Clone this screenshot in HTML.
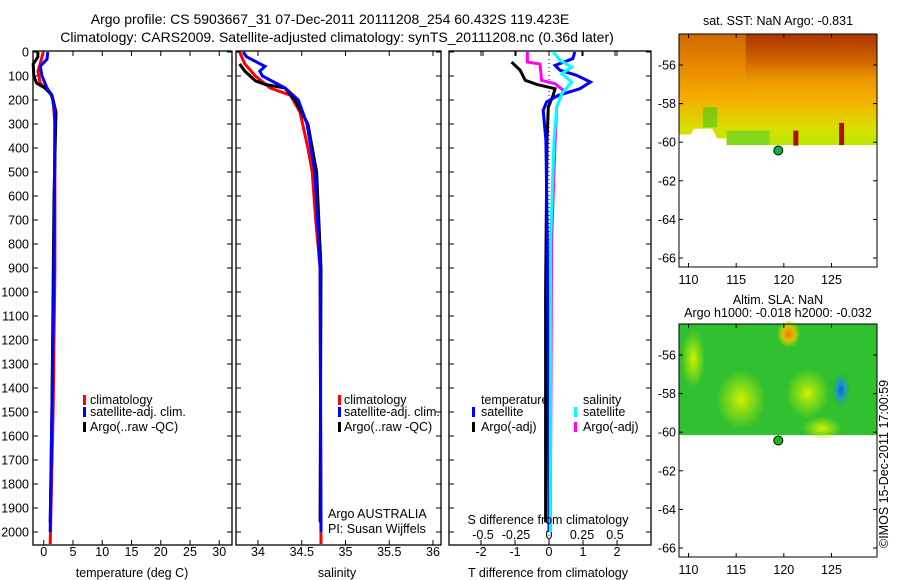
<!DOCTYPE html>
<html><head><meta charset="utf-8"><style>
body{margin:0;background:#fff}
svg{display:block;font-family:"Liberation Sans",sans-serif}
text{font-size:12.5px;fill:#000}
</style></head><body>
<svg id="c" width="900" height="580" viewBox="0 0 900 580">
<defs>
<linearGradient id="sstg" x1="0" y1="0" x2="0" y2="1">
<stop offset="0" stop-color="#d06800"/><stop offset="0.3" stop-color="#e88a00"/><stop offset="0.6" stop-color="#f5b000"/><stop offset="0.85" stop-color="#d8e000"/><stop offset="1" stop-color="#b8e800"/>
</linearGradient>
<linearGradient id="darkg" x1="0" y1="0" x2="0" y2="1"><stop offset="0" stop-color="#a02000" stop-opacity="0.7"/><stop offset="1" stop-color="#a02000" stop-opacity="0"/></linearGradient>
<radialGradient id="blueblob"><stop offset="0" stop-color="#1060e0"/><stop offset="0.5" stop-color="#20a0c0"/><stop offset="1" stop-color="#20b040" stop-opacity="0"/></radialGradient>
<radialGradient id="orblob"><stop offset="0" stop-color="#e08000"/><stop offset="0.5" stop-color="#e0c000"/><stop offset="1" stop-color="#b0e000" stop-opacity="0"/></radialGradient>
<radialGradient id="yblob"><stop offset="0" stop-color="#d0f000"/><stop offset="1" stop-color="#c0f000" stop-opacity="0"/></radialGradient>
</defs>
<text x="330" y="24" text-anchor="middle" style="font-size:14px">Argo profile: CS 5903667_31 07-Dec-2011 20111208_254 60.432S 119.423E</text>
<text x="337" y="42" text-anchor="middle" style="font-size:14px">Climatology: CARS2009. Satellite-adjusted climatology: synTS_20111208.nc (0.36d later)</text>
<g id="g"></g>
<text transform="translate(888,548) rotate(-90)" style="font-size:12.5px">©IMOS 15-Dec-2011 17:00:59</text>
</svg>
<script>
// ---- data ----
const depthTicks=[0,100,200,300,400,500,600,700,800,900,1000,1100,1200,1300,1400,1500,1600,1700,1800,1900,2000];
const tempTicks=[0,5,10,15,20,25,30];
const salTicks=[34,34.5,35,35.5,36];
const salTickLabels=["34","34.5","35","35.5","36"];
const tdTicks=[-2,-1,0,1,2];
const sdTicks=[-0.5,-0.25,0,0.25,0.5];
const sdTickLabels=["-0.5","-0.25","0","0.25","0.5"];
// temperature profiles [depth, value]
const tempClimD=[0,50,80,130,170,200,300,900,1500,2050];
const tempClimV=[-0.1,-0.6,-1.0,-0.6,1.1,1.6,1.9,1.9,1.6,1.1];
const tempArgoD=[0,20,50,100,130,150,180,250,600,1000,1500,1960];
const tempArgoV=[-1.0,-1.0,-1.8,-1.7,-1.2,0.2,1.4,2.1,1.75,1.6,1.4,1.1];
const tempSatD=[0,30,60,100,150,180,250,900,1500,2000];
const tempSatV=[0.7,0.55,-0.6,-0.3,0.55,1.4,1.9,1.75,1.4,1.1];
// salinity profiles
const salClimD=[0,50,100,150,180,250,300,400,500,700,900,2050];
const salClimV=[33.79,33.85,33.97,34.14,34.37,34.48,34.51,34.57,34.62,34.66,34.71,34.72];
const salArgoD=[50,80,120,135,150,200,300,500,900,1960];
const salArgoV=[33.79,33.85,33.97,34.08,34.31,34.42,34.57,34.67,34.72,34.71];
const salSatD=[0,20,60,80,100,150,200,300,500,900,2000];
const salSatV=[33.83,33.87,34.08,34.02,34.05,34.31,34.46,34.56,34.65,34.71,34.72];
// differences
const tdArgoD=[42,76,118,135,153,181,229,368,1000,1960];
const tdArgoV=[-1.1,-0.85,-0.7,-0.36,0.18,0.12,-0.02,-0.06,-0.1,-0.1];
const sdArgoD=[0,42,50,118,132,160,229,368,785,2000];
const sdArgoV=[-0.164,-0.164,-0.068,-0.056,0.046,0.108,0.058,0.046,0.02,0.01];
const tdSatD=[0,28,56,76,97,125,153,181,208,243,368,785,2000];
const tdSatV=[0.76,0.7,0.18,0.32,0.81,1.22,0.91,0.27,-0.07,-0.17,-0.09,-0.05,0.0];
const sdSatD=[0,35,63,90,125,174,229,368,785,2000];
const sdSatV=[0.032,0.084,0.172,0.096,0.172,0.096,0.058,0.038,0.012,0.01];
// maps
const latTicks=[-56,-58,-60,-62,-64,-66];
const lonTicks=[110,115,120,125];
const argoLon=119.42, argoLat=-60.43;

// ---- helpers ----
const NS="http://www.w3.org/2000/svg", G=document.getElementById('g');
function el(t,a,p){const e=document.createElementNS(NS,t);for(const k in a)e.setAttribute(k,a[k]);(p||G).appendChild(e);return e;}
const Y0=51,Y1=545;
const yD=d=>52+d*0.24;
const P1={l:33,r:232,x:v=>43.75+v*5.85};
const P2={l:236,r:441,x:v=>258+(v-34)*87.5};
const P3={l:449,r:651,x:v=>549+v*34};
const xS=v=>549+v*132;

function frame(P,name,labelDepth){
  const f=el('rect',{x:P.l,y:Y0,width:P.r-P.l,height:Y1-Y0,fill:'none',stroke:'#000','stroke-width':1.3});
  
  
  depthTicks.forEach(d=>{
    const y=yD(d);
    el('line',{x1:P.l,x2:P.l+5,y1:y,y2:y,stroke:'#000'});
    el('line',{x1:P.r-5,x2:P.r,y1:y,y2:y,stroke:'#000'});
    if(labelDepth){const t=el('text',{x:P.l-4,y:y+4.5,'text-anchor':'end'});t.textContent=d;
      
      }
  });
}
function xticks(P,ticks,labels,fx,ylab,top){
  ticks.forEach((v,i)=>{const x=fx(v);
    if(top!==false){el('line',{x1:x,x2:x,y1:Y0,y2:Y0+5,stroke:'#000'});}
    el('line',{x1:x,x2:x,y1:Y1-5,y2:Y1,stroke:'#000'});
    const t=el('text',{x:x,y:ylab,'text-anchor':'middle'});t.textContent=labels[i];
    
    
  });
}
function line(P,fx,D,V,color,name,w){
  const pts=D.map((d,i)=>fx(V[i]).toFixed(1)+','+yD(d).toFixed(1)).join(' ');
  const e=el('polyline',{points:pts,fill:'none',stroke:color,'stroke-width':w||3,'stroke-linejoin':'miter'});
  
  
}
function txt(x,y,s,name,anchor){const t=el('text',{x:x,y:y,'text-anchor':anchor||'start'});t.textContent=s;
  
  return t;}
function legSw(x,y,c){el('rect',{x:x,y:y-9,width:3,height:10,fill:c});}

// panel 1
frame(P1,'temperature-panel',true);
xticks(P1,tempTicks,tempTicks.map(String),P1.x,556);
line(P1,P1.x,tempClimD,tempClimV,'#f00','temp-climatology-line');
line(P1,P1.x,tempArgoD,tempArgoV,'#000','temp-argo-line');
line(P1,P1.x,tempSatD,tempSatV,'#00f','temp-satellite-line');
txt(132,577,'temperature (deg C)','temperature-axis-title','middle');
legSw(83,404,'#f00');txt(90,404,'climatology','legend-climatology');
legSw(83,416,'#00f');txt(90,416,'satellite-adj. clim.','legend-satellite');
legSw(83,431,'#000');txt(90,431,'Argo(..raw -QC)','legend-argo');

// panel 2
frame(P2,'salinity-panel',false);
xticks(P2,salTicks,salTickLabels,P2.x,556);
line(P2,P2.x,salClimD,salClimV,'#f00','sal-climatology-line');
line(P2,P2.x,salArgoD,salArgoV,'#000','sal-argo-line');
line(P2,P2.x,salSatD,salSatV,'#00f','sal-satellite-line');
txt(337,577,'salinity','salinity-axis-title','middle');
legSw(338,404,'#f00');txt(344,404,'climatology','legend-climatology-2');
legSw(338,416,'#00f');txt(344,416,'satellite-adj. clim.','legend-satellite-2');
legSw(338,431,'#000');txt(344,431,'Argo(..raw -QC)','legend-argo-2');
txt(328,518,'Argo AUSTRALIA','argo-australia-label');
txt(328,533,'PI: Susan Wijffels','pi-label');

// panel 3
frame(P3,'difference-panel',false);
xticks(P3,tdTicks,tdTicks.map(String),P3.x,556);
sdTicks.forEach((v,i)=>{const x=xS(v);el('line',{x1:x,x2:x,y1:Y0,y2:Y0+5,stroke:'#000'});
  txt(x,539,sdTickLabels[i],'s-diff-tick-label','middle');});
el('line',{x1:549,x2:549,y1:Y0,y2:Y1,stroke:'#000','stroke-dasharray':'1,3'});
line(P3,P3.x,tdArgoD,tdArgoV,'#000','t-diff-argo-line');
line(P3,xS,sdArgoD,sdArgoV,'#f0f','s-diff-argo-line');
line(P3,P3.x,tdSatD,tdSatV,'#00f','t-diff-satellite-line');
line(P3,xS,sdSatD,sdSatV,'#0ff','s-diff-satellite-line');
txt(548,524,'S difference from climatology','s-diff-axis-title','middle');
txt(548,577,'T difference from climatology','t-diff-axis-title','middle');
txt(481,404,'temperature','legend-temperature-header');
txt(583,404,'salinity','legend-salinity-header');
legSw(472,416,'#00f');txt(481,416,'satellite','legend-t-satellite');
legSw(472,431,'#000');txt(481,431,'Argo(-adj)','legend-t-argo');
legSw(574,416,'#0ff');txt(583,416,'satellite','legend-s-satellite');
legSw(574,431,'#f0f');txt(583,431,'Argo(-adj)','legend-s-argo');

// maps
const ML=679,MR=877;
const mx=lon=>679+(lon-109)*9.53;
function map(top,name,title1,title2,kind){
  const my=lat=>top+31+(-56-lat)*19.3;
  const bot=top+233;
  const g=el('g',{});
  
  
  const yEdge=my(-60.15);
  if(kind==='sst'){
    el('rect',{x:ML,y:top,width:MR-ML,height:yEdge-top,fill:'url(#sstg)'},g);
    el('rect',{x:mx(116),y:top,width:MR-mx(116),height:45,fill:'url(#darkg)'},g);
    el('polygon',{points:`${ML},${my(-59.6)} ${mx(110.2)},${my(-59.6)} ${mx(110.6)},${my(-59.3)} ${mx(112.5)},${my(-59.3)} ${mx(113)},${my(-59.8)} ${mx(114)},${my(-59.8)} ${mx(114)},${yEdge+1} ${ML},${yEdge+1}`,fill:'#fff'},g);
    el('rect',{x:mx(114),y:my(-59.4),width:mx(118.5)-mx(114),height:yEdge-my(-59.4),fill:'#40c830',opacity:0.5},g);
    el('rect',{x:mx(111.5),y:my(-58.2),width:mx(113)-mx(111.5),height:20,fill:'#20c820',opacity:0.5},g);
    el('rect',{x:mx(121),y:my(-59.4),width:5,height:15,fill:'#b01000'},g);
    el('rect',{x:mx(125.8),y:my(-59),width:5,height:yEdge-my(-59),fill:'#b01000'},g);
  } else {
    el('rect',{x:ML,y:top,width:MR-ML,height:yEdge-top,fill:'#30c030'},g);
    el('ellipse',{cx:mx(115.5),cy:my(-58.3),rx:25,ry:30,fill:'url(#yblob)'},g);
    el('ellipse',{cx:mx(122.5),cy:my(-58),rx:22,ry:25,fill:'url(#yblob)'},g);
    el('ellipse',{cx:mx(110.5),cy:my(-56.2),rx:12,ry:30,fill:'url(#yblob)'},g);
    el('ellipse',{cx:mx(124),cy:my(-59.8),rx:20,ry:12,fill:'url(#yblob)'},g);
    el('ellipse',{cx:mx(120.5),cy:my(-54.9),rx:12,ry:14,fill:'url(#orblob)'},g);
    el('ellipse',{cx:mx(126),cy:my(-57.8),rx:9,ry:18,fill:'url(#blueblob)'},g);
  }
  el('rect',{x:ML,y:top,width:MR-ML,height:bot-top,fill:'none',stroke:'#000','stroke-width':1},g);
  latTicks.forEach(l=>{const y=my(l);el('line',{x1:ML,x2:ML+4,y1:y,y2:y,stroke:'#000'},g);el('line',{x1:MR-4,x2:MR,y1:y,y2:y,stroke:'#000'},g);
    txt(676,y+4.5,String(l),'lat-tick-label','end');});
  lonTicks.forEach(l=>{const x=mx(l);el('line',{x1:x,x2:x,y1:bot-4,y2:bot,stroke:'#000'},g);el('line',{x1:x,x2:x,y1:top,y2:top+4,stroke:'#000'},g);
    txt(x,bot+17,String(l),'lon-tick-label','middle');});
  const dot=el('circle',{cx:mx(argoLon),cy:my(argoLat),r:4.5,fill:kind==='sst'?'#10b040':'#10c010',stroke:'#000','stroke-width':1});
  
  
  if(title2){txt(778,top-20,title1,'map-title','middle');txt(778,top-7,title2,'map-subtitle','middle');}
  else txt(778,top-9,title1,'map-title','middle');
}
map(34,'sst-map','sat. SST: NaN Argo: -0.831',null,'sst');
map(324,'sla-map','Altim. SLA: NaN','Argo h1000: -0.018 h2000: -0.032','sla');
</script>
</body></html>
